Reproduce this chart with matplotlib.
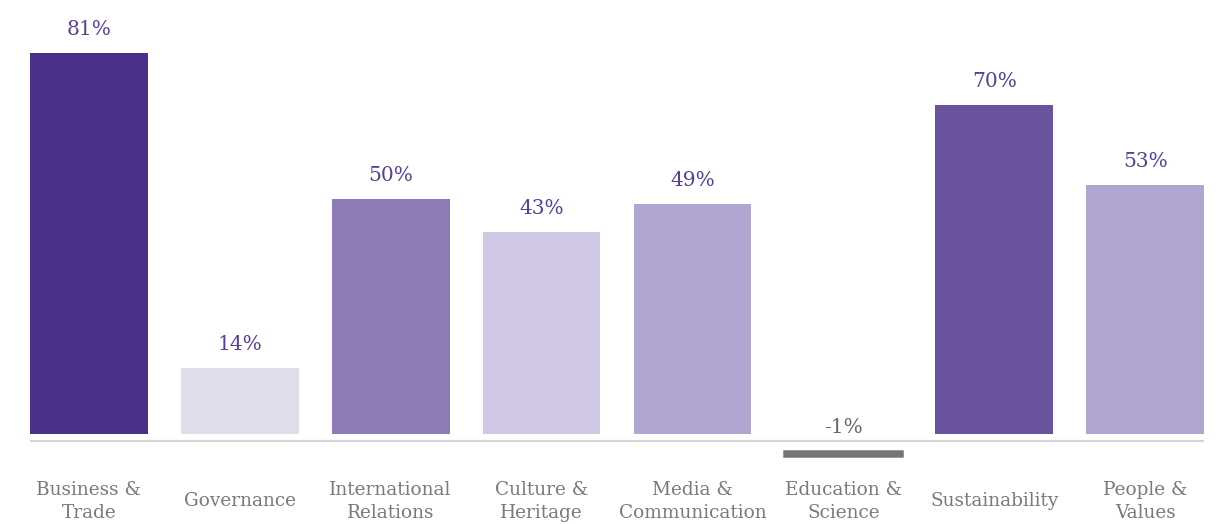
import matplotlib
matplotlib.use("Agg")
import matplotlib.pyplot as plt
import matplotlib.transforms as mtransforms

categories = ["Business &\nTrade", "Governance", "International\nRelations",
              "Culture &\nHeritage", "Media &\nCommunication", "Education &\nScience",
              "Sustainability", "People &\nValues"]
values = [81, 14, 50, 43, 49, -1, 70, 53]
bar_colors = ["#4b3089", "#e0dcec", "#8e7ab5", "#d0c8e4",
              "#b1a5d2", "#757575", "#6a529c", "#b1a5d2"]

FONT = "DejaVu Serif"
LABEL_PURPLE = "#58409a"
LABEL_GRAY = "#7a7a7a"

fig = plt.figure(figsize=(12.3, 5.24), dpi=100)
ax = fig.add_axes([30 / 1230, 0.10, 1174 / 1230, 0.8431])

x = list(range(len(values)))
width = 0.781
neg_offset = -3.6  # negative bars hang below the baseline rule

for xi, v, c in zip(x, values, bar_colors):
    if v >= 0:
        ax.bar(xi, v, width=width, color=c, linewidth=0)
        ax.text(xi, v + 3.0, f"{v}%", ha="center", va="bottom",
                fontsize=14.5, color=LABEL_PURPLE, family=FONT)
    else:
        ax.bar(xi, v, bottom=neg_offset, width=width, color=c,
               edgecolor=c, linewidth=1.8)
        ax.text(xi, 1.3, f"{v}%", ha="center", va="center",
                fontsize=14.5, color="#6a6a6a", family=FONT)

# baseline rule
ax.axhline(-1.5, color="#d6d6d6", linewidth=1.6, zorder=0)

trans = mtransforms.blended_transform_factory(ax.transData, ax.transAxes)
for xi, lab in zip(x, categories):
    ax.text(xi, -0.0675, lab, transform=trans, ha="center", va="center",
            fontsize=13.3, color=LABEL_GRAY, family=FONT, linespacing=1.32)

ax.set_xlim(-0.39, 7.39)
ax.set_ylim(-8, 86)
ax.axis("off")

fig.savefig("out.png", dpi=100)
